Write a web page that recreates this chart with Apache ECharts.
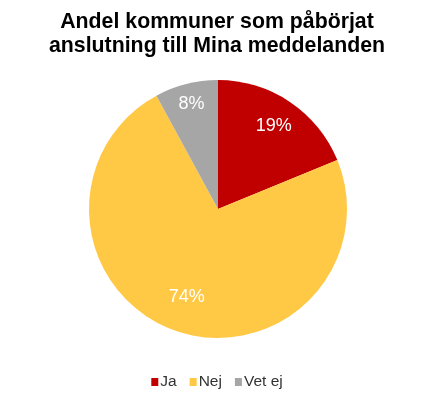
<!DOCTYPE html>
<html>
<head>
<meta charset="utf-8">
<script src="https://cdn.jsdelivr.net/npm/echarts@6/dist/echarts.min.js"></script>
<style>
  html, body { margin: 0; padding: 0; background: #fff; }
  #chart { width: 434px; height: 398px; }
</style>
</head>
<body>
<div id="chart"></div>
<script>
  // andel kommuner (procent)
  var categories = ['Ja', 'Nej', 'Vet ej'];
  var values = [19, 74, 8];
  var colors = ['#C00000', '#FFC845', '#A6A6A6'];
  // how far out each label sits, relative to the default inner spot
  var labelPush = [1.48, 1.38, 1.6];

  var chart = echarts.init(document.getElementById('chart'));

  var pieData = categories.map(function (name, i) {
    return { name: name, value: values[i], itemStyle: { color: colors[i] } };
  });

  var cx = 218, cy = 209;

  chart.setOption({
    animation: false,
    title: {
      text: 'Andel kommuner som påbörjat\nanslutning till Mina meddelanden',
      left: 'center',
      top: 5,
      textStyle: {
        fontFamily: 'Liberation Sans, Arial, sans-serif',
        fontSize: 21.3,
        fontWeight: 'bold',
        color: '#000',
        lineHeight: 24
      }
    },
    legend: {
      top: 369,
      left: 'center',
      itemWidth: 7,
      itemHeight: 8,
      itemGap: 13,
      icon: 'rect',
      textStyle: {
        fontFamily: 'Liberation Sans, Arial, sans-serif',
        fontSize: 15.5,
        color: '#333',
        padding: [0, 0, 0, -3]
      },
      data: categories
    },
    series: [{
      type: 'pie',
      center: [cx, cy],
      radius: [0, 129],
      startAngle: 90,
      clockwise: true,
      label: {
        position: 'inner',
        formatter: '{c}%',
        color: '#fff',
        fontFamily: 'Liberation Sans, Arial, sans-serif',
        fontSize: 18
      },
      labelLayout: function (params) {
        var r = params.labelRect;
        var lx = r.x + r.width / 2, ly = r.y + r.height / 2;
        var k = labelPush[params.dataIndex] - 1;
        return { dx: (lx - cx) * k, dy: (ly - cy) * k };
      },
      labelLine: { show: false },
      itemStyle: { borderWidth: 0 },
      data: pieData
    }]
  });
</script>
</body>
</html>
